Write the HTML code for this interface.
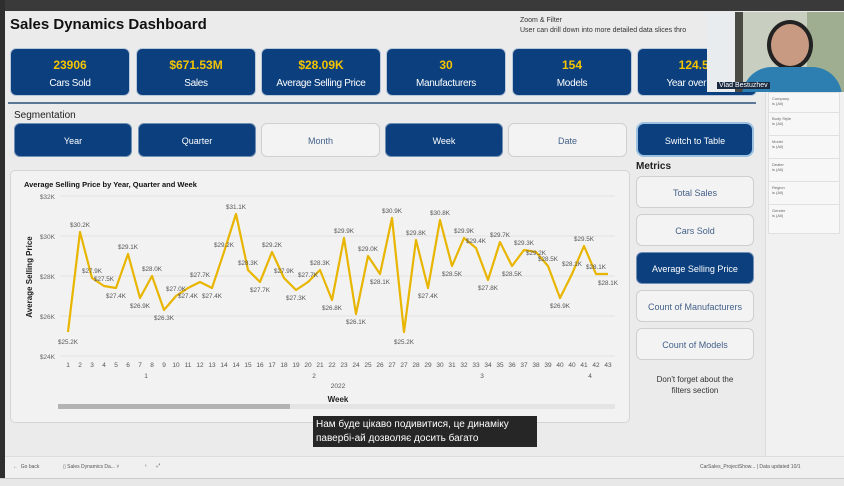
<!DOCTYPE html>
<html><head><meta charset="utf-8"><style>
*{margin:0;padding:0;box-sizing:border-box}
body{width:844px;height:486px;overflow:hidden;background:#ebebeb;font-family:"Liberation Sans",sans-serif;position:relative}
.a{position:absolute}
.kpi{position:absolute;top:48px;width:120px;height:48px;background:#0b3f7e;border-radius:6px;border:1px solid #b9c8da;color:#fff;text-align:center}
.kpi b{display:block;color:#f5c400;font-size:12px;margin-top:9px}
.kpi span{display:block;font-size:10px;margin-top:6px;letter-spacing:-.3px}
.btn{position:absolute;height:34px;border-radius:6px;font-size:9px;text-align:center;line-height:34px}
.d{background:#0b3f7e;color:#fff;border:1px solid #6f8fb4}
.l{background:#f3f3f3;color:#44618a;border:1px solid #cfcfcf}
.f{position:absolute;left:768px;width:72px;height:30px;background:#f7f7f7;border:1px solid #e0e0e0;font-size:4px;color:#666;padding:3px}
</style></head><body>
<div class="a" style="left:0;top:0;width:844px;height:11px;background:#3a3a3a"></div>
<div class="a" style="left:0;top:0;width:5px;height:486px;background:#2e2e2e"></div>
<div class="a" style="left:10px;top:16px;font-size:15px;font-weight:bold;color:#111">Sales Dynamics Dashboard</div>
<div class="a" style="left:520px;top:16px;font-size:7px;color:#333;line-height:10px;width:190px;white-space:nowrap;overflow:hidden">Zoom &amp; Filter<br>User can drill down into more detailed data slices thro</div>
<div class="kpi" style="left:10px"><b>23906</b><span>Cars Sold</span></div>
<div class="kpi" style="left:136px"><b>$671.53M</b><span>Sales</span></div>
<div class="kpi" style="left:261px"><b>$28.09K</b><span>Average Selling Price</span></div>
<div class="kpi" style="left:386px"><b>30</b><span>Manufacturers</span></div>
<div class="kpi" style="left:512px"><b>154</b><span>Models</span></div>
<div class="kpi" style="left:637px"><b>124.57</b><span>Year over Year</span></div>
<div class="a" style="left:8px;top:102px;width:748px;height:2px;background:#5a7795"></div>
<div class="a" style="left:765px;top:92px;width:79px;height:365px;background:#f1f1f1;border-left:1px solid #ddd"></div>
<div class="f" style="top:92px">Company<br>is (All)</div>
<div class="f" style="top:112px">Body Style<br>is (All)</div>
<div class="f" style="top:135px">Model<br>is (All)</div>
<div class="f" style="top:158px">Dealer<br>is (All)</div>
<div class="f" style="top:181px">Region<br>is (All)</div>
<div class="f" style="top:204px">Gender<br>is (All)</div>
<!-- webcam -->
<div class="a" style="left:707px;top:12px;width:137px;height:80px;background:#c9cfc0;overflow:hidden">
<div class="a" style="left:0;top:0;width:28px;height:80px;background:#e8ecef"></div>
<div class="a" style="left:28px;top:0;width:8px;height:80px;background:#4a4a44"></div>
<div class="a" style="left:100px;top:0;width:37px;height:80px;background:#9fae90"></div>
<div class="a" style="left:60px;top:8px;width:46px;height:50px;border-radius:50%;background:#c99a82;border:4px solid #222"></div>
<div class="a" style="left:35px;top:55px;width:100px;height:40px;border-radius:30px 30px 0 0;background:#2c7fb0"></div>
<div class="a" style="left:10px;top:70px;font-size:7px;color:#fff;background:#1a2a40;padding:0 2px">Vlad Bestuzhev</div>
</div>
<div class="a" style="left:14px;top:110px;font-size:10px;color:#222">Segmentation</div>
<div class="btn d" style="left:14px;top:123px;width:118px">Year</div>
<div class="btn d" style="left:138px;top:123px;width:118px">Quarter</div>
<div class="btn l" style="left:261px;top:123px;width:119px">Month</div>
<div class="btn d" style="left:385px;top:123px;width:118px">Week</div>
<div class="btn l" style="left:508px;top:123px;width:119px">Date</div>
<div class="btn d" style="left:636px;top:122px;width:118px;height:35px;border-radius:8px;border:2px solid #9cc0e0">Switch to Table</div>
<div class="a" style="left:636px;top:161px;font-size:10px;font-weight:bold;color:#222">Metrics</div>
<div class="btn l" style="left:636px;top:176px;width:118px;height:32px;line-height:32px">Total Sales</div>
<div class="btn l" style="left:636px;top:214px;width:118px;height:32px;line-height:32px">Cars Sold</div>
<div class="btn d" style="left:636px;top:252px;width:118px;height:32px;line-height:32px">Average Selling Price</div>
<div class="btn l" style="left:636px;top:290px;width:118px;height:32px;line-height:32px">Count of Manufacturers</div>
<div class="btn l" style="left:636px;top:328px;width:118px;height:32px;line-height:32px">Count of Models</div>
<div class="a" style="left:636px;top:374px;width:118px;text-align:center;font-size:8px;line-height:11px;color:#333">Don't forget about the<br>filters section</div>
<!-- chart -->
<div class="a" style="left:10px;top:170px;width:620px;height:253px;background:#f2f2f2;border:1px solid #d4d4d4;border-radius:5px"></div>
<svg class="a" style="left:0;top:0" width="844" height="486" font-family="Liberation Sans, sans-serif">
<text x="24" y="187" font-size="7.5" font-weight="bold" fill="#111">Average Selling Price by Year, Quarter and Week</text>
<g stroke="#e2e2e2" stroke-width="1">
<line x1="60" x2="615" y1="196" y2="196"/><line x1="60" x2="615" y1="236" y2="236"/><line x1="60" x2="615" y1="276" y2="276"/><line x1="60" x2="615" y1="316" y2="316"/><line x1="60" x2="615" y1="356" y2="356"/>
</g>
<g font-size="6.5" fill="#666" text-anchor="end">
<text x="55" y="199">$32K</text><text x="55" y="239">$30K</text><text x="55" y="279">$28K</text><text x="55" y="319">$26K</text><text x="55" y="359">$24K</text>
</g>
<text transform="translate(32,277) rotate(-90)" font-size="8" font-weight="bold" fill="#222" text-anchor="middle">Average Selling Price</text>
<polyline fill="none" stroke="#e8b500" stroke-width="2.2" stroke-linejoin="round" points="68,332 80,232 92,278 104,286 116,288 128,254 140,298 152,276 164,310 176,296 188,288 200,282 212,288 224,252 236,214 248,270 260,282 272,252 284,278 296,290 308,282 320,270 332,300 344,238 356,314 368,256 380,274 392,218 404,332 416,240 428,288 440,220 452,266 464,238 476,248 488,280 500,242 512,266 524,250 536,252 548,266 560,298 572,274 584,246 596,274 608,274"/>
<g font-size="6.3" fill="#555" text-anchor="middle">
<text x="68" y="344">$25.2K</text><text x="80" y="227">$30.2K</text><text x="92" y="273">$27.9K</text><text x="104" y="281">$27.5K</text><text x="116" y="298">$27.4K</text><text x="128" y="249">$29.1K</text><text x="140" y="308">$26.9K</text><text x="152" y="271">$28.0K</text><text x="164" y="320">$26.3K</text><text x="176" y="291">$27.0K</text><text x="188" y="298">$27.4K</text><text x="200" y="277">$27.7K</text><text x="212" y="298">$27.4K</text><text x="224" y="247">$29.2K</text><text x="236" y="209">$31.1K</text><text x="248" y="265">$28.3K</text><text x="260" y="292">$27.7K</text><text x="272" y="247">$29.2K</text><text x="284" y="273">$27.9K</text><text x="296" y="300">$27.3K</text><text x="308" y="277">$27.7K</text><text x="320" y="265">$28.3K</text><text x="332" y="310">$26.8K</text><text x="344" y="233">$29.9K</text><text x="356" y="324">$26.1K</text><text x="368" y="251">$29.0K</text><text x="380" y="284">$28.1K</text><text x="392" y="213">$30.9K</text><text x="404" y="344">$25.2K</text><text x="416" y="235">$29.8K</text><text x="428" y="298">$27.4K</text><text x="440" y="215">$30.8K</text><text x="452" y="276">$28.5K</text><text x="464" y="233">$29.9K</text><text x="476" y="243">$29.4K</text><text x="488" y="290">$27.8K</text><text x="500" y="237">$29.7K</text><text x="512" y="276">$28.5K</text><text x="524" y="245">$29.3K</text><text x="536" y="255">$29.2K</text><text x="548" y="261">$28.5K</text><text x="560" y="308">$26.9K</text><text x="572" y="266">$28.1K</text><text x="584" y="241">$29.5K</text><text x="596" y="269">$28.1K</text><text x="608" y="285">$28.1K</text>
</g>
<g font-size="6.5" fill="#555" text-anchor="middle">
<text x="68" y="367">1</text><text x="80" y="367">2</text><text x="92" y="367">3</text><text x="104" y="367">4</text><text x="116" y="367">5</text><text x="128" y="367">6</text><text x="140" y="367">7</text><text x="152" y="367">8</text><text x="164" y="367">9</text><text x="176" y="367">10</text><text x="188" y="367">11</text><text x="200" y="367">12</text><text x="212" y="367">13</text><text x="224" y="367">14</text><text x="236" y="367">14</text><text x="248" y="367">15</text><text x="260" y="367">16</text><text x="272" y="367">17</text><text x="284" y="367">18</text><text x="296" y="367">19</text><text x="308" y="367">20</text><text x="320" y="367">21</text><text x="332" y="367">22</text><text x="344" y="367">23</text><text x="356" y="367">24</text><text x="368" y="367">25</text><text x="380" y="367">26</text><text x="392" y="367">27</text><text x="404" y="367">27</text><text x="416" y="367">28</text><text x="428" y="367">29</text><text x="440" y="367">30</text><text x="452" y="367">31</text><text x="464" y="367">32</text><text x="476" y="367">33</text><text x="488" y="367">34</text><text x="500" y="367">35</text><text x="512" y="367">36</text><text x="524" y="367">37</text><text x="536" y="367">38</text><text x="548" y="367">39</text><text x="560" y="367">40</text><text x="572" y="367">40</text><text x="584" y="367">41</text><text x="596" y="367">42</text><text x="608" y="367">43</text>
<text x="146" y="378">1</text><text x="314" y="378">2</text><text x="482" y="378">3</text><text x="590" y="378">4</text>
<text x="338" y="388">2022</text>
</g>
<text x="338" y="402" font-size="8" font-weight="bold" fill="#222" text-anchor="middle">Week</text>
<rect x="58" y="404" width="557" height="5" fill="#e4e4e4"/>
<rect x="58" y="404" width="232" height="5" fill="#b3b3b3"/>
</svg>
<div class="a" style="left:313px;top:416px;width:224px;height:31px;background:#262626;color:#fff;font-size:10px;line-height:14px;padding:2px 3px;font-family:'Liberation Sans','DejaVu Sans',sans-serif">Нам буде цікаво подивитися, це динаміку<br>павербі-ай дозволяє досить багато</div>
<div class="a" style="left:5px;top:456px;width:839px;height:22px;background:#f0f0f0;border-top:1px solid #ddd;font-size:5px;color:#555">
<span class="a" style="left:8px;top:7px">←&nbsp; Go back</span>
<span class="a" style="left:58px;top:7px">▯ Sales Dynamics Da... ˅</span>
<span class="a" style="left:140px;top:6px">‹ &nbsp;&nbsp;&nbsp;&nbsp;&nbsp; ⤢</span>
<span class="a" style="left:695px;top:7px">CarSales_ProjectShow... | Data updated 10/1</span>
</div>
<div class="a" style="left:0;top:478px;width:844px;height:8px;background:#e8e8e8;border-top:1px solid #ccc"></div>
</body></html>
